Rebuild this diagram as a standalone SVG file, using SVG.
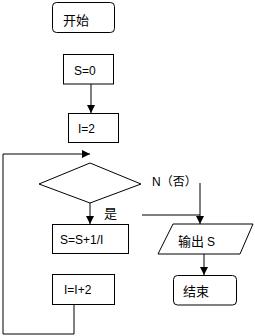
<svg xmlns="http://www.w3.org/2000/svg" width="255" height="336" viewBox="0 0 255 336">
<style>
.n{fill:#fff;stroke:#000;stroke-width:1}
.t{font-family:"Liberation Sans","Noto Sans CJK SC",sans-serif;font-size:12px;fill:#000}
.c{font-family:"Noto Sans CJK SC","Liberation Sans",sans-serif;font-size:13px;fill:#000}
.e{fill:none;stroke:#000;stroke-width:1}
</style>
<defs>
<marker id="ah" markerUnits="userSpaceOnUse" markerWidth="8" markerHeight="8" refX="8" refY="4" orient="auto">
<path d="M0,0 L8,4 L0,8 Z" fill="#000"/>
</marker>
</defs>
<rect width="255" height="336" fill="#fff"/>
<g id="connectors">
<path class="e" d="M91,84 V113" marker-end="url(#ah)"/>
<path class="e" d="M74,304 V334 H3 V154 H90" marker-end="url(#ah)"/>
<path class="e" d="M90,203 V224" marker-end="url(#ah)"/>
<path class="e" d="M200,183 V224" marker-end="url(#ah)"/>
<path class="e" d="M142,215 H200"/>
<path class="e" d="M204,254 V275" marker-end="url(#ah)"/>
</g>
<g id="start"><rect class="n" x="52.5" y="2.5" width="62" height="30" rx="4"/><text class="c" x="63" y="25">开始</text></g>
<g id="s0"><rect class="n" x="63.5" y="54.5" width="50" height="29.5"/><text class="t" x="74" y="75">S=0</text></g>
<g id="i2"><rect class="n" x="68.5" y="113.5" width="50" height="29"/><text class="t" x="78" y="133">I=2</text></g>
<g id="cond"><polygon class="n" points="90,163 141,184 90,203 39,184"/></g>
<g id="labels"><text class="c" x="104" y="218">是</text><text class="t" x="152" y="186">N（否）</text></g>
<g id="sum"><rect class="n" x="52.5" y="224.5" width="76" height="29"/><text class="t" x="60" y="244">S=S+1/I</text></g>
<g id="inc"><rect class="n" x="52.5" y="274.5" width="62" height="30"/><text class="t" x="64" y="294">I=I+2</text></g>
<g id="out"><polygon class="n" points="173,224 253,224 240,254 158,254"/><text class="c" x="178" y="246">输出 <tspan class="t">S</tspan></text></g>
<g id="end"><rect class="n" x="173.5" y="275.5" width="63" height="29.5" rx="4"/><text class="c" x="183" y="296">结束</text></g>
</svg>
